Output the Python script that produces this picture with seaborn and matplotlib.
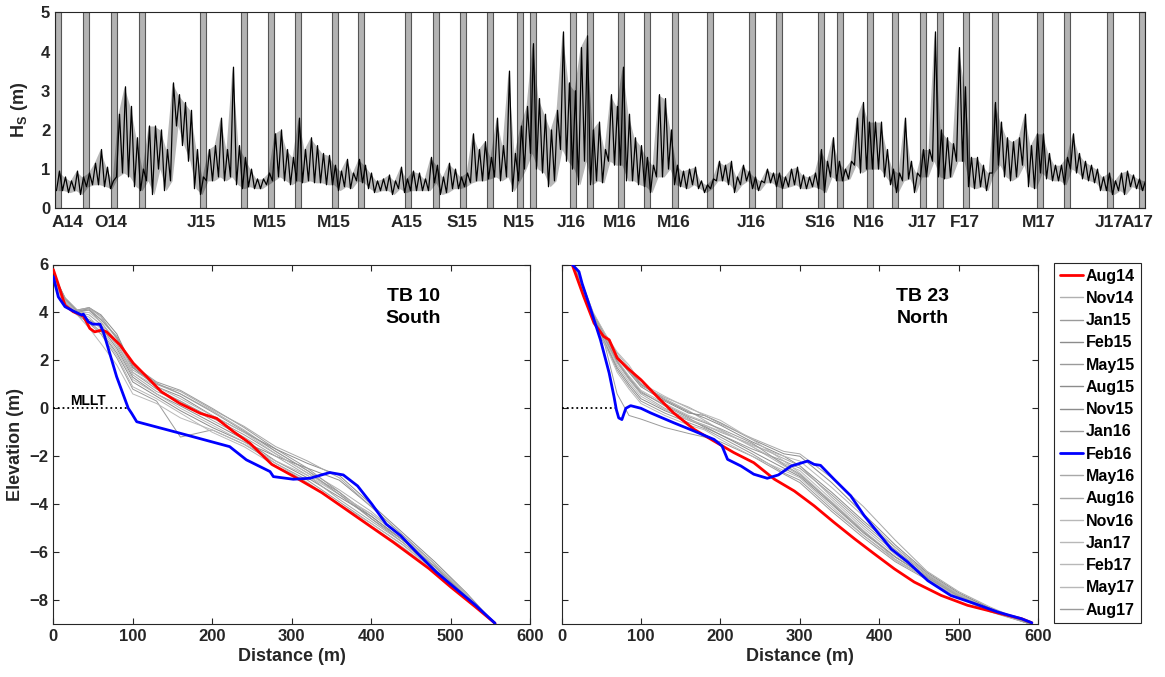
import numpy as np
import pandas as pd
import matplotlib
matplotlib.use('Agg')
import matplotlib.pyplot as plt
import seaborn as sns
from matplotlib.lines import Line2D

# ---------------- Top panel: significant wave height ----------------
# 6-day bins (day index from start of record), low / high of the trace in each bin
hs_bin_start = np.arange(0, 1090, 6)
hs_lo = [0.45, 0.45, 0.4, 0.45, 0.35, 0.55, 0.6, 0.6, 0.55, 0.5, 0.8, 0.9, 0.8, 0.55, 0.45, 0.7,
         0.35, 1.0, 0.45, 0.7, 2.1, 1.6, 1.2, 0.5, 0.35, 0.7, 0.7, 0.8, 0.7, 0.8, 0.6, 0.5, 0.55,
         0.5, 0.5, 0.6, 0.7, 0.8, 0.7,
         0.6, 0.7, 0.65, 0.7, 0.65, 0.65, 0.6, 0.6, 0.45, 0.55, 0.5, 0.7, 0.65, 0.5, 0.4, 0.45,
         0.45, 0.35, 0.5, 0.4, 0.45, 0.45, 0.45, 0.45, 0.65, 0.35, 0.4, 0.5, 0.5, 0.55, 0.65, 0.7,
         0.7, 0.75, 0.8, 0.7, 0.8, 0.43, 0.7, 1.0, 1.4, 1.0, 0.9, 0.55, 0.7, 1.5, 1.2,
         1.0, 0.6, 1.2, 0.6, 0.7, 0.65, 1.2, 1.1, 1.1, 0.7, 0.7, 0.6, 0.55, 0.4, 0.8, 0.8, 1.0,
         0.6, 0.55, 0.5, 0.6, 0.5, 0.4, 0.5, 0.7, 0.7, 0.6, 0.4, 0.6, 0.7, 0.5, 0.45, 0.65, 0.65,
         0.55, 0.5, 0.55, 0.6, 0.5, 0.5, 0.55, 0.5, 0.4, 0.8, 0.7, 0.7, 0.75, 1.1,
         0.9, 1.0, 1.0, 1.0, 0.8, 0.6, 0.4, 0.7, 0.75, 0.4, 0.8, 0.8, 1.2, 0.8, 0.75, 0.8, 1.2,
         1.2, 0.55, 0.5, 0.55, 0.45, 0.9, 1.1, 0.8, 0.7, 0.8, 1.1, 0.55, 0.5, 0.9, 0.75, 0.7,
         0.7, 0.6, 1.0, 0.9, 0.75, 0.7, 0.65, 0.45, 0.45, 0.35, 0.45, 0.35, 0.55, 0.5, 0.45]
hs_hi = [0.95, 0.8, 0.7, 0.95, 0.8, 0.9, 1.15, 1.5, 1.05, 0.7, 2.4, 3.1, 2.6, 1.8, 1.0, 2.1,
         2.1, 2.0, 1.5, 3.2, 2.9, 2.7, 2.5, 1.5, 0.8, 1.5, 1.6, 2.3, 1.5, 3.6, 1.6, 1.3, 1.0,
         0.75, 0.75, 0.9, 1.9, 2.0, 1.5,
         1.3, 2.3, 1.5, 1.8, 1.6, 1.4, 1.35, 1.1, 0.95, 1.25, 0.9, 1.25, 1.1, 0.9, 0.7, 0.75,
         0.85, 0.7, 1.05, 0.75, 0.95, 0.9, 0.75, 1.3, 1.1, 0.8, 1.15, 1.0, 0.8, 0.9, 1.9, 1.5,
         1.7, 1.3, 2.3, 1.6, 3.5, 1.4, 2.1, 2.6, 4.2, 2.8, 2.4, 2.0, 2.5, 4.5, 3.2,
         3.0, 4.1, 4.4, 2.0, 2.2, 1.5, 2.9, 2.6, 3.6, 2.4, 1.8, 1.6, 1.3, 1.1, 2.9, 2.8, 2.0,
         1.1, 0.95, 1.0, 1.05, 0.7, 0.6, 0.75, 1.2, 1.1, 1.2, 0.8, 1.1, 0.95, 0.8, 0.7, 1.0, 0.9,
         0.9, 0.8, 1.0, 1.05, 0.85, 0.8, 0.9, 1.5, 1.2, 1.8, 1.2, 1.0, 1.2, 2.3,
         2.7, 2.2, 2.2, 2.2, 1.5, 1.0, 0.9, 2.3, 1.2, 0.9, 1.5, 1.5, 4.5, 2.0, 1.8, 1.65, 4.1,
         3.1, 1.3, 1.3, 1.1, 0.9, 2.7, 2.2, 1.8, 1.7, 1.8, 2.4, 1.6, 1.9, 1.9, 1.4, 1.1,
         1.1, 1.3, 1.9, 1.4, 1.2, 1.1, 1.0, 0.8, 0.9, 0.7, 0.9, 0.95, 0.85, 0.75, 0.7]

# survey periods (grey bars), day index of start
survey_days = [0, 28, 56, 84, 145, 186, 213, 240, 277, 303, 350, 378, 405, 432, 462, 475,
               515, 532, 563, 589, 617, 652, 694, 721, 763, 782, 812, 837, 865, 882, 908,
               937, 982, 1009, 1052, 1084]
time_tick_pos = [12, 56, 146, 215, 279, 352, 407, 464, 516, 565, 619, 696, 765, 814, 867,
                 910, 984, 1054, 1082]
time_tick_lab = ['A14', 'O14', 'J15', 'M15', 'M15', 'A15', 'S15', 'N15', 'J16', 'M16', 'M16',
                 'J16', 'S16', 'N16', 'J17', 'F17', 'M17', 'J17', 'A17']

# ---------------- Profiles ----------------
surveys = ['Aug14', 'Nov14', 'Jan15', 'Feb15', 'May15', 'Aug15', 'Nov15', 'Jan16', 'Feb16',
           'May16', 'Aug16', 'Nov16', 'Jan17', 'Feb17', 'May17', 'Aug17']
gray_surveys = ['Nov14', 'Jan15', 'Feb15', 'May15', 'Aug15', 'Nov15', 'Jan16',
                'May16', 'Aug16', 'Nov16', 'Jan17', 'Feb17', 'May17', 'Aug17']

# TB 10 South
s_red_x = [0, 5, 14.7, 25, 37.8, 46, 52, 61, 67, 84, 100.7, 117.5, 136, 159, 185, 205.6, 226.6,
           247.6, 275, 302, 338, 365, 401, 428, 473, 500, 531, 556]
s_red_z = [5.79, 5.3, 4.3, 4.03, 3.85, 3.33, 3.19, 3.26, 3.19, 2.64, 1.88, 1.32, 0.69, 0.21,
           -0.21, -0.42, -0.97, -1.46, -2.34, -2.83, -3.52, -4.14, -4.97, -5.59, -6.69, -7.45,
           -8.28, -8.97]
s_blue_x = [0, 6.3, 14.7, 25, 35.7, 37.8, 44, 50, 58.7, 63, 79.7, 94.4, 98.6, 105, 159.5, 222,
            243, 272.8, 277, 302, 323, 348, 365, 383, 401, 419, 437, 459, 482, 509, 531, 556]
s_blue_z = [5.49, 4.65, 4.24, 4.06, 3.89, 3.93, 3.61, 3.51, 3.51, 3.19, 1.32, 0.0, -0.21, -0.56,
            -1.04, -1.6, -2.15, -2.64, -2.85, -2.96, -2.92, -2.68, -2.78, -3.24, -4.0, -4.83,
            -5.31, -6.07, -6.83, -7.59, -8.2, -8.97]
s_gray_x = [0, 15, 30, 45, 60, 80, 100, 130, 160, 200, 240, 280, 320, 360, 400, 440, 480, 520, 556]
s_gray_z = {
    'Nov14': [5.5, 4.5, 4.0, 4.2, 3.8, 2.9, 1.7, 1.0, 0.6, -0.1, -0.9, -1.8, -2.6, -3.4, -4.3, -5.4, -6.6, -7.8, -9.0],
    'Jan15': [5.4, 4.4, 4.0, 4.1, 3.6, 2.7, 1.5, 0.8, 0.3, -0.4, -1.1, -1.9, -2.7, -3.5, -4.5, -5.5, -6.6, -7.85, -9.0],
    'Feb15': [5.3, 4.4, 3.9, 3.6, 3.2, 2.3, 1.1, 0.5, -0.1, -0.8, -1.4, -2.0, -2.5, -3.0, -4.1, -5.3, -6.5, -7.8, -9.0],
    'May15': [5.5, 4.5, 4.05, 4.15, 3.7, 3.0, 1.8, 1.1, 0.75, 0.0, -0.8, -1.7, -2.5, -3.5, -4.6, -5.6, -6.7, -7.9, -9.0],
    'Aug15': [5.6, 4.6, 4.1, 4.2, 3.9, 3.1, 1.7, 0.9, 0.5, -0.3, -1.0, -1.7, -2.3, -2.8, -4.0, -5.2, -6.4, -7.7, -9.0],
    'Nov15': [5.4, 4.4, 3.95, 3.7, 3.4, 2.5, 1.3, 0.6, 0.1, -0.6, -1.3, -2.2, -2.9, -3.7, -4.5, -5.5, -6.6, -7.85, -9.0],
    'Jan16': [5.3, 4.3, 3.9, 3.55, 3.1, 2.1, 0.8, 0.3, -1.2, -0.9, -1.5, -2.3, -3.0, -3.9, -4.8, -5.7, -6.75, -7.9, -9.0],
    'May16': [5.5, 4.5, 4.0, 3.9, 3.5, 2.6, 1.4, 0.7, 0.3, -0.5, -1.2, -2.0, -2.8, -3.8, -4.7, -5.6, -6.7, -7.9, -9.0],
    'Aug16': [5.6, 4.6, 4.1, 4.2, 3.85, 2.9, 1.6, 1.0, 0.7, -0.05, -0.75, -1.6, -2.2, -2.9, -4.1, -5.3, -6.5, -7.75, -9.0],
    'Nov16': [5.4, 4.4, 4.0, 3.8, 3.3, 2.4, 1.2, 0.6, 0.0, -0.7, -1.4, -2.3, -3.1, -4.0, -4.8, -5.7, -6.75, -7.95, -9.0],
    'Jan17': [5.3, 4.35, 3.95, 3.6, 3.2, 2.2, 0.9, 0.4, -0.2, -1.0, -1.6, -2.4, -3.1, -4.0, -4.9, -5.8, -6.8, -7.95, -9.0],
    'Feb17': [5.2, 4.3, 3.9, 3.35, 2.7, 1.8, 0.6, 0.2, -0.4, -0.9, -1.5, -2.2, -2.8, -3.6, -4.4, -5.4, -6.6, -7.8, -9.0],
    'May17': [5.5, 4.5, 4.0, 4.0, 3.6, 2.8, 1.5, 0.9, 0.4, -0.3, -1.0, -1.9, -2.7, -3.6, -4.4, -5.4, -6.5, -7.8, -9.0],
    'Aug17': [5.6, 4.55, 4.05, 4.1, 3.7, 2.95, 1.75, 1.05, 0.6, -0.15, -0.95, -1.8, -2.6, -3.6, -4.6, -5.5, -6.6, -7.85, -9.0],
}

# TB 23 North
n_red_x = [13.4, 28, 41, 53, 60, 70, 83, 100, 120, 141, 167, 192, 217, 242, 268, 293, 318, 343,
           369, 394, 419, 444, 478, 511, 553, 579, 592]
n_red_z = [6.0, 4.66, 3.55, 3.0, 2.86, 2.1, 1.68, 1.19, 0.5, -0.19, -0.88, -1.37, -1.85, -2.27,
           -2.96, -3.45, -4.07, -4.76, -5.45, -6.08, -6.7, -7.25, -7.81, -8.22, -8.57, -8.78, -8.95]
n_blue_x = [13.4, 22, 26, 37, 49, 60, 66, 69, 72, 76, 81, 87, 100, 112, 141, 167, 192, 202, 209,
            226, 242, 259, 273, 289, 310, 318, 326, 343, 364, 381, 398, 415, 436, 461, 490, 520,
            549, 579, 592]
n_blue_z = [6.0, 5.7, 5.2, 4.1, 2.86, 1.47, 0.5, -0.05, -0.4, -0.47, 0.0, 0.11, 0.0, -0.19,
            -0.6, -0.95, -1.3, -1.57, -2.13, -2.41, -2.75, -2.92, -2.78, -2.41, -2.2, -2.34,
            -2.38, -2.96, -3.65, -4.48, -5.18, -5.87, -6.42, -7.19, -7.81, -8.15, -8.5, -8.78, -8.95]
n_gray_x = [15, 25, 40, 55, 70, 85, 100, 130, 160, 180, 200, 240, 280, 300, 340, 380, 420, 460,
            500, 540, 590]
n_gray_z = {
    'Nov14': [6.0, 5.3, 3.95, 3.1, 2.3, 1.7, 1.0, 0.4, -0.1, -0.5, -0.9, -1.6, -2.4, -2.8, -3.9, -5.1, -6.2, -7.0, -7.8, -8.4, -9.0],
    'Jan15': [5.9, 5.2, 3.85, 2.9, 2.0, 1.3, 0.7, 0.1, -0.4, -0.8, -1.1, -1.7, -2.2, -2.5, -3.6, -4.8, -5.9, -6.95, -7.8, -8.4, -9.0],
    'Feb15': [6.0, 5.25, 3.9, 3.0, 2.1, 1.5, 0.9, 0.3, -0.2, -0.3, -0.6, -1.3, -1.9, -2.0, -3.1, -4.4, -5.7, -6.85, -7.7, -8.35, -9.0],
    'May15': [5.95, 5.1, 3.7, 2.7, 1.6, 0.9, 0.3, -0.2, -0.6, -0.85, -1.2, -1.9, -2.7, -3.0, -4.2, -5.3, -6.3, -7.1, -7.9, -8.45, -9.0],
    'Aug15': [6.0, 5.3, 3.95, 3.05, 2.2, 1.6, 1.0, 0.35, -0.15, -0.4, -0.7, -1.4, -2.0, -2.4, -3.5, -4.7, -5.8, -6.9, -7.75, -8.35, -9.0],
    'Nov15': [5.9, 5.15, 3.75, 2.75, 1.7, 1.0, 0.4, -0.1, -0.5, -0.75, -1.1, -1.8, -2.5, -2.85, -4.0, -5.2, -6.2, -7.05, -7.85, -8.4, -9.0],
    'Jan16': [5.95, 5.05, 3.65, 2.6, 0.6, -0.3, -0.45, -0.8, -1.05, -1.2, -1.4, -2.0, -2.75, -3.1, -4.3, -5.4, -6.4, -7.15, -7.9, -8.5, -9.0],
    'May16': [6.0, 5.25, 3.9, 3.0, 2.2, 1.55, 0.95, 0.45, 0.05, -0.3, -0.65, -1.25, -1.8, -1.9, -2.9, -4.1, -5.5, -6.8, -7.65, -8.3, -9.0],
    'Aug16': [5.95, 5.2, 3.8, 2.85, 1.9, 1.2, 0.6, 0.0, -0.45, -0.7, -1.0, -1.5, -2.1, -2.4, -3.7, -4.9, -6.0, -7.0, -7.8, -8.4, -9.0],
    'Nov16': [6.0, 5.25, 3.85, 2.95, 2.0, 1.35, 0.75, 0.2, -0.3, -0.55, -0.9, -1.6, -2.3, -2.6, -3.8, -5.0, -6.1, -7.05, -7.85, -8.45, -9.0],
    'Jan17': [5.9, 5.1, 3.7, 2.65, 1.5, 0.8, 0.2, -0.3, -0.7, -0.9, -1.3, -2.0, -2.6, -2.9, -4.1, -5.3, -6.35, -7.1, -7.9, -8.45, -9.0],
    'Feb17': [6.0, 5.3, 4.0, 3.1, 2.35, 1.8, 1.05, 0.5, 0.0, -0.25, -0.5, -1.3, -2.2, -2.7, -3.9, -5.1, -6.3, -7.1, -7.9, -8.45, -9.0],
    'May17': [5.95, 5.2, 3.8, 2.8, 1.8, 1.1, 0.5, -0.05, -0.5, -0.7, -0.95, -1.55, -2.0, -2.2, -3.3, -4.5, -5.8, -6.9, -7.75, -8.4, -9.0],
    'Aug17': [6.0, 5.2, 3.85, 2.9, 1.95, 1.25, 0.65, 0.15, -0.35, -0.6, -0.85, -1.45, -2.35, -2.75, -3.95, -5.15, -6.2, -7.05, -7.85, -8.4, -9.0],
}

gray_colors = {'Nov14': '#b0b0b0', 'Jan15': '#9a9a9a', 'Feb15': '#8c8c8c', 'May15': '#9a9a9a',
               'Aug15': '#8c8c8c', 'Nov15': '#8c8c8c', 'Jan16': '#9a9a9a', 'May16': '#a8a8a8',
               'Aug16': '#a8a8a8', 'Nov16': '#b8b8b8', 'Jan17': '#b8b8b8', 'Feb17': '#b8b8b8',
               'May17': '#b8b8b8', 'Aug17': '#9a9a9a'}

# ---------------- Style ----------------
sns.set_theme(style='ticks')
plt.rcParams['font.family'] = ['Liberation Sans', 'DejaVu Sans']
plt.rcParams['font.weight'] = 'bold'
plt.rcParams['axes.labelweight'] = 'bold'
plt.rcParams['mathtext.fontset'] = 'custom'
plt.rcParams['mathtext.bf'] = 'Liberation Sans:bold'
plt.rcParams['mathtext.rm'] = 'Liberation Sans:bold'
plt.rcParams['mathtext.it'] = 'Liberation Sans:bold'
INK = '#262626'
plt.rcParams['text.color'] = INK
plt.rcParams['axes.labelcolor'] = INK

W, H = 1165, 677
fig = plt.figure(figsize=(W / 100, H / 100), dpi=100)
ax0 = fig.add_axes([55 / W, 1 - 208.3 / H, 1090 / W, 196 / H])
axL = fig.add_axes([53.3 / W, 1 - 624 / H, 476.7 / W, 359.5 / H])
axR = fig.add_axes([561.5 / W, 1 - 624 / H, 476.7 / W, 359.5 / H])

for ax in (ax0, axL, axR):
    for sp in ax.spines.values():
        sp.set_color(INK)
        sp.set_linewidth(0.8)
        sp.set_visible(True)
    ax.tick_params(direction='in', top=True, right=True, color=INK, labelcolor=INK,
                   labelsize=12, length=4, width=0.8)

# ---- top panel
for d in survey_days:
    ax0.axvspan(d, d + 6, facecolor='#b3b3b3', edgecolor='#555555', lw=0.8, zorder=1)
hs_mid_t = hs_bin_start + 3.0
ax0.fill_between(hs_mid_t, hs_lo, hs_hi, color='black', alpha=0.28, lw=0, zorder=2)
hs_t = np.column_stack([hs_bin_start + 1.5, hs_bin_start + 4.5]).ravel()
hs_v = np.column_stack([hs_lo, hs_hi]).ravel()
sns.lineplot(x=hs_t, y=hs_v, ax=ax0, color='black', lw=0.9, sort=False, estimator=None,
             legend=False, zorder=3)
ax0.set_xlim(0, 1090)
ax0.set_ylim(0, 5)
ax0.set_yticks([0, 1, 2, 3, 4, 5])
ax0.set_xticks(time_tick_pos)
ax0.set_xticklabels(time_tick_lab, fontweight='bold', fontsize=12.5)
ax0.tick_params(axis='x', length=0, pad=5, top=False)
ax0.set_ylabel(r'$\mathbf{H_S}$ (m)', fontsize=13, fontweight='bold', labelpad=8)
ax0.set_xlabel('')

# ---- profile panels
def draw_profiles(ax, gx, gz, rx, rz, bx, bz, mllt_end):
    for s in gray_surveys:
        sns.lineplot(x=gx, y=gz[s], ax=ax, color=gray_colors[s], lw=0.7, sort=False,
                     estimator=None, legend=False, zorder=2)
    sns.lineplot(x=rx, y=rz, ax=ax, color='#ff0000', lw=2.0, sort=False, estimator=None,
                 legend=False, zorder=4)
    sns.lineplot(x=bx, y=bz, ax=ax, color='#0000ff', lw=2.0, sort=False, estimator=None,
                 legend=False, zorder=5)
    ax.plot([0, mllt_end], [0, 0], ls=':', color='black', lw=1.3, zorder=3)
    ax.set_xlim(0, 600)
    ax.set_ylim(-9, 6)
    ax.set_xticks([0, 100, 200, 300, 400, 500, 600])
    ax.set_yticks([-8, -6, -4, -2, 0, 2, 4, 6])
    ax.set_xlabel('Distance (m)', fontsize=13, fontweight='bold', labelpad=3)

draw_profiles(axL, s_gray_x, s_gray_z, s_red_x, s_red_z, s_blue_x, s_blue_z, 95)
draw_profiles(axR, n_gray_x, n_gray_z, n_red_x, n_red_z, n_blue_x, n_blue_z, 68)

axL.set_ylabel('Elevation (m)', fontsize=13, fontweight='bold', labelpad=4)
axR.set_ylabel('')
axR.tick_params(axis='y', labelleft=False)
for ax in (ax0, axL, axR):
    for lab in ax.get_xticklabels() + ax.get_yticklabels():
        lab.set_fontweight('bold')

axL.text(453, 4.68, 'TB 10', ha='center', va='center', fontsize=14, fontweight='bold', color='black')
axL.text(453, 3.76, 'South', ha='center', va='center', fontsize=14, fontweight='bold', color='black')
axR.text(455, 4.68, 'TB 23', ha='center', va='center', fontsize=14, fontweight='bold', color='black')
axR.text(455, 3.76, 'North', ha='center', va='center', fontsize=14, fontweight='bold', color='black')
axL.text(43, 0.3, 'MLLT', ha='center', va='center', fontsize=10, fontweight='bold', color='black')

# ---- legend
handles = []
for s in surveys:
    if s == 'Aug14':
        handles.append(Line2D([], [], color='#ff0000', lw=2.0))
    elif s == 'Feb16':
        handles.append(Line2D([], [], color='#0000ff', lw=2.0))
    else:
        handles.append(Line2D([], [], color=gray_colors[s], lw=1.0))
leg = fig.legend(handles, surveys, loc='upper left', bbox_to_anchor=(1054 / W, 1 - 263 / H),
                 frameon=True, fancybox=False, edgecolor=INK, framealpha=1,
                 prop={'weight': 'bold', 'size': 11.5}, handlelength=1.45, handletextpad=0.2,
                 labelspacing=0.455, borderpad=0.35, borderaxespad=0)
leg.get_frame().set_linewidth(0.8)
for t in leg.get_texts():
    t.set_color('black')

fig.savefig('out.png', dpi=100)
